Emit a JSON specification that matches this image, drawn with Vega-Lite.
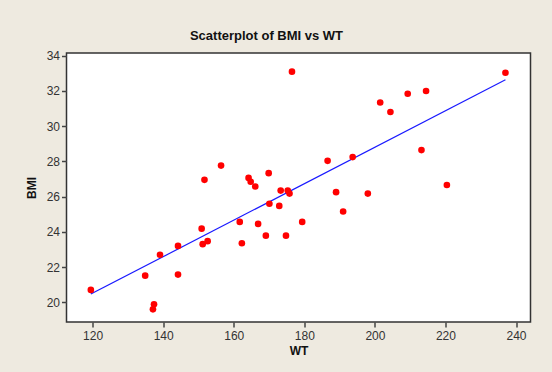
{
  "$schema": "https://vega.github.io/schema/vega-lite/v6.json",
  "width": 464,
  "height": 269,
  "autosize": "none",
  "padding": {"left": 66.5, "top": 53, "right": 21.5, "bottom": 50},
  "background": "#eeeae0",
  "title": {
    "text": "Scatterplot of BMI vs WT",
    "font": "Liberation Sans",
    "fontSize": 13,
    "fontWeight": "bold",
    "color": "#111111",
    "anchor": "middle",
    "dx": -32,
    "offset": 7
  },
  "config": {
    "view": {"fill": "white", "stroke": "#333333", "strokeWidth": 1.5},
    "axis": {
      "grid": false,
      "domain": false,
      "tickColor": "#444444",
      "tickSize": 5,
      "tickWidth": 1.5,
      "labelFont": "Liberation Sans",
      "labelFontSize": 12,
      "labelColor": "#333333",
      "titleFont": "Liberation Sans",
      "titleFontSize": 12,
      "titleFontWeight": "bold",
      "titleColor": "#111111"
    }
  },
  "data": {
    "values": [
      {"WT": 119.5, "BMI": 20.70},
      {"WT": 134.9, "BMI": 21.51},
      {"WT": 137.4, "BMI": 19.89},
      {"WT": 137.1, "BMI": 19.60},
      {"WT": 139.1, "BMI": 22.70},
      {"WT": 144.2, "BMI": 23.20},
      {"WT": 144.2, "BMI": 21.57},
      {"WT": 150.9, "BMI": 24.18},
      {"WT": 151.2, "BMI": 23.30},
      {"WT": 152.6, "BMI": 23.47},
      {"WT": 156.4, "BMI": 27.76},
      {"WT": 151.7, "BMI": 26.95},
      {"WT": 164.2, "BMI": 27.06},
      {"WT": 164.8, "BMI": 26.84},
      {"WT": 166.1, "BMI": 26.57},
      {"WT": 169.9, "BMI": 27.33},
      {"WT": 173.3, "BMI": 26.34},
      {"WT": 175.3, "BMI": 26.34},
      {"WT": 175.8, "BMI": 26.17},
      {"WT": 170.1, "BMI": 25.59},
      {"WT": 172.9, "BMI": 25.47},
      {"WT": 161.7, "BMI": 24.56},
      {"WT": 166.9, "BMI": 24.45},
      {"WT": 179.4, "BMI": 24.56},
      {"WT": 162.3, "BMI": 23.35},
      {"WT": 169.1, "BMI": 23.78},
      {"WT": 174.8, "BMI": 23.78},
      {"WT": 186.6, "BMI": 28.03},
      {"WT": 193.7, "BMI": 28.24},
      {"WT": 189.0, "BMI": 26.25},
      {"WT": 198.0, "BMI": 26.17},
      {"WT": 191.0, "BMI": 25.15},
      {"WT": 176.5, "BMI": 33.09},
      {"WT": 201.5, "BMI": 31.34},
      {"WT": 204.4, "BMI": 30.80},
      {"WT": 209.3, "BMI": 31.84},
      {"WT": 214.5, "BMI": 31.99},
      {"WT": 213.2, "BMI": 28.64},
      {"WT": 220.4, "BMI": 26.66},
      {"WT": 237.0, "BMI": 33.03}
    ]
  },
  "encoding": {
    "x": {
      "field": "WT",
      "type": "quantitative",
      "title": "WT",
      "scale": {"domain": [112.6, 244.1], "nice": false, "zero": false},
      "axis": {"values": [120, 140, 160, 180, 200, 220, 240], "labelPadding": 3, "titlePadding": 4}
    },
    "y": {
      "field": "BMI",
      "type": "quantitative",
      "title": "BMI",
      "scale": {"domain": [18.88, 34.15], "nice": false, "zero": false},
      "axis": {"values": [20, 22, 24, 26, 28, 30, 32, 34], "labelPadding": 2, "titlePadding": 8}
    }
  },
  "layer": [
    {
      "transform": [{"regression": "BMI", "on": "WT"}],
      "mark": {"type": "line", "color": "#1a1aff", "strokeWidth": 1.2}
    },
    {
      "mark": {"type": "circle", "color": "#ff0000", "opacity": 1, "size": 44}
    }
  ]
}
